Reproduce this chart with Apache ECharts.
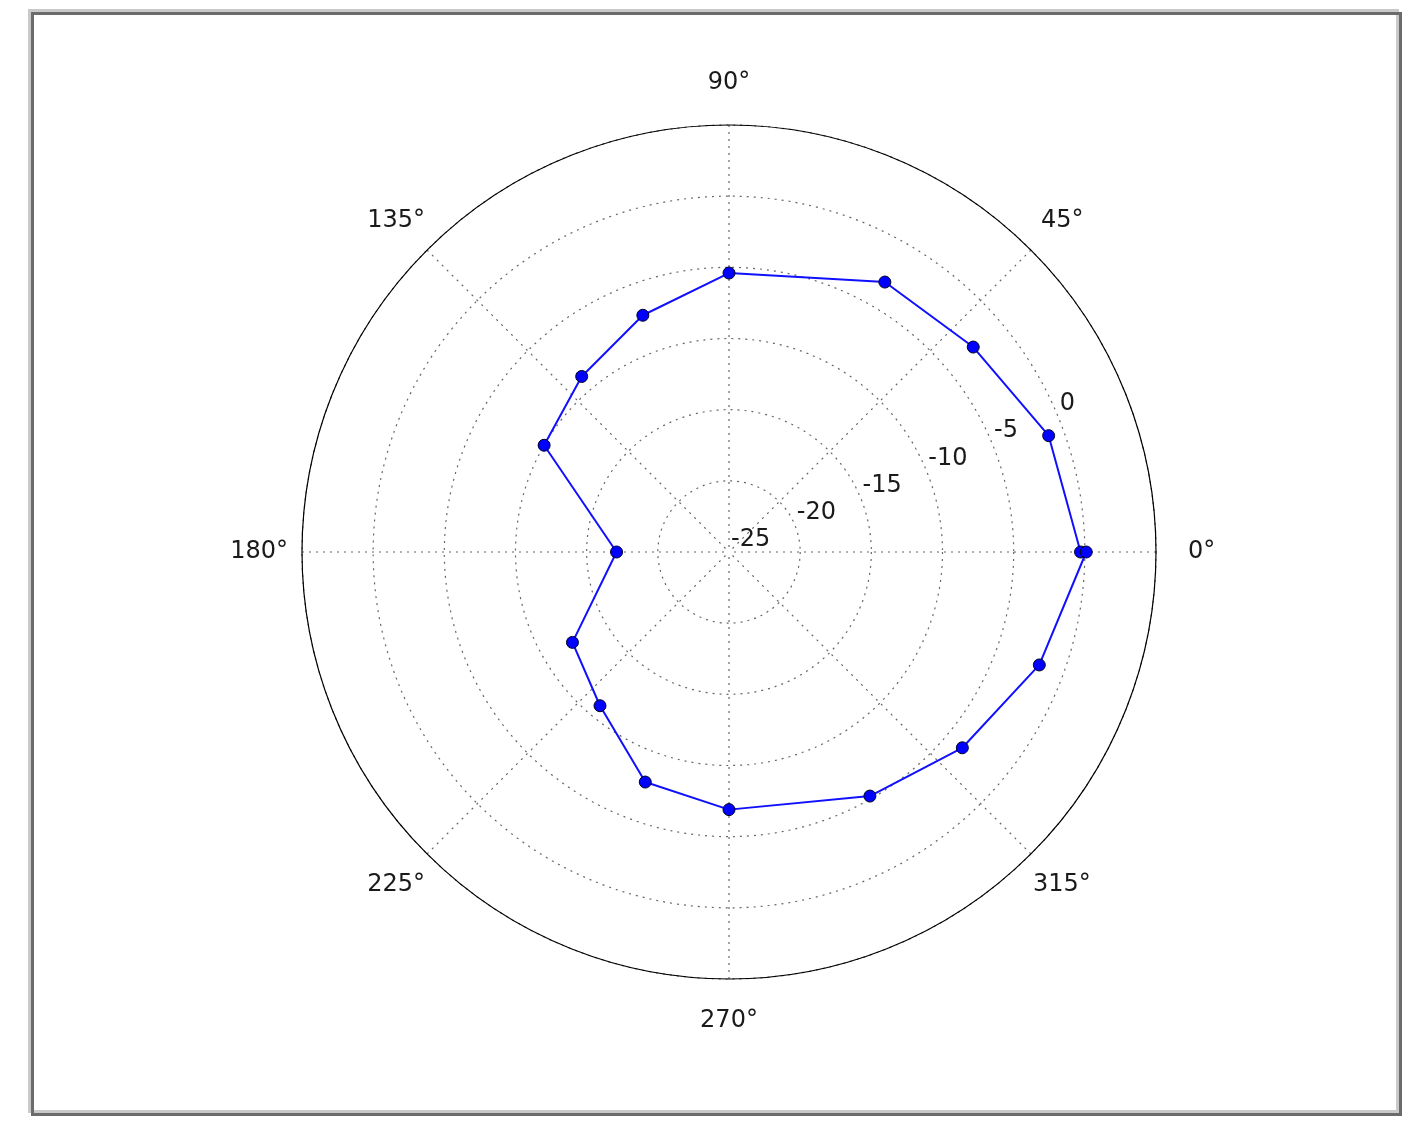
<!DOCTYPE html>
<html><head><meta charset="utf-8">
<script src="https://cdn.jsdelivr.net/npm/echarts@6/dist/echarts.min.js"></script>
<style>
html,body{margin:0;padding:0;background:#fff;}
#chart{position:absolute;left:0;top:0;width:1422px;height:1136px;}
.frame{position:absolute;box-sizing:border-box;pointer-events:none;}
</style></head><body>
<div class="frame" style="left:28px;top:9px;width:1371px;height:1104px;border:3px solid #c9c9c9;"></div>
<div class="frame" style="left:31px;top:12px;width:1371px;height:1104px;border:3px solid #6b6b6b;"></div>
<div id="chart"></div>
<script>
// ---- data ----
const angles = [0, 20, 40, 60, 90, 110, 130, 150, 180, 210, 230, 250, 270, 300, 320, 340, 360];
const values = [-0.3, -1.1, -2.6, -3.1, -5.4, -7.3, -8.9, -10.0, -17.1, -12.3, -10.9, -7.8, -6.9, -5.2, -3.6, -1.8, 0.1];
const angleTicks = [0, 45, 90, 135, 180, 225, 270, 315];
const radiusTicks = [-25, -20, -15, -10, -5, 0];

// ---- styling ----
const FONT = 'DejaVu Sans';
const TEXT = '#1a1a1a';
const pad = {0:[0,0,0,32],45:[0,0,34,10],90:[0,0,60,0],135:[0,2,34,0],180:[0,14,0,0],225:[38,2,0,0],270:[60,0,0,0],315:[38,0,0,2]};
const rich = {};
angleTicks.forEach(a => { rich['a' + a] = {padding: pad[a], fontSize: 24, fontFamily: FONT, color: TEXT, lineHeight: 24}; });
const dotted = {color: '#666', width: 1.2, type: [2, 5]};

const chart = echarts.init(document.getElementById('chart'), null, {renderer: 'canvas'});
chart.setOption({
  backgroundColor: 'transparent',
  animation: false,
  polar: [{center: [729, 552], radius: 427}, {center: [729, 552], radius: 427}],
  angleAxis: [{
    polarIndex: 0, type: 'value', min: 0, max: 360, interval: 45, startAngle: 0, clockwise: false,
    axisLine: {show: true, lineStyle: {color: '#000', width: 1.2}},
    axisTick: {show: false},
    axisLabel: {show: true, margin: 0, formatter: v => angleTicks.includes(v) ? '{a' + v + '|' + v + '°}' : '', rich: rich},
    splitLine: {show: true, lineStyle: dotted}
  }, {
    polarIndex: 1, type: 'value', min: 0, max: 360, startAngle: 22.5, clockwise: false, show: false
  }],
  radiusAxis: [{
    polarIndex: 0, type: 'value', min: radiusTicks[0], max: 5, interval: 5,
    axisLine: {show: false}, axisTick: {show: false}, axisLabel: {show: false},
    splitLine: {show: true, lineStyle: dotted}
  }, {
    polarIndex: 1, type: 'value', min: radiusTicks[0], max: 5, interval: 5,
    axisLine: {show: false}, axisTick: {show: false}, splitLine: {show: false},
    axisLabel: {show: true, margin: 0, align: 'left', verticalAlign: 'bottom', fontSize: 24, fontFamily: FONT, color: TEXT,
      padding: [0, 0, 0, 2], formatter: v => radiusTicks.includes(v) ? String(v) : ''}
  }],
  series: [{
    type: 'line', coordinateSystem: 'polar', polarIndex: 0,
    data: angles.map((a, i) => [values[i], a]),
    symbol: 'circle', symbolSize: 12, showAllSymbol: true,
    lineStyle: {color: '#1010ff', width: 2},
    itemStyle: {color: '#0000ff', borderColor: '#000022', borderWidth: 1}
  }]
});
</script>
</body></html>
